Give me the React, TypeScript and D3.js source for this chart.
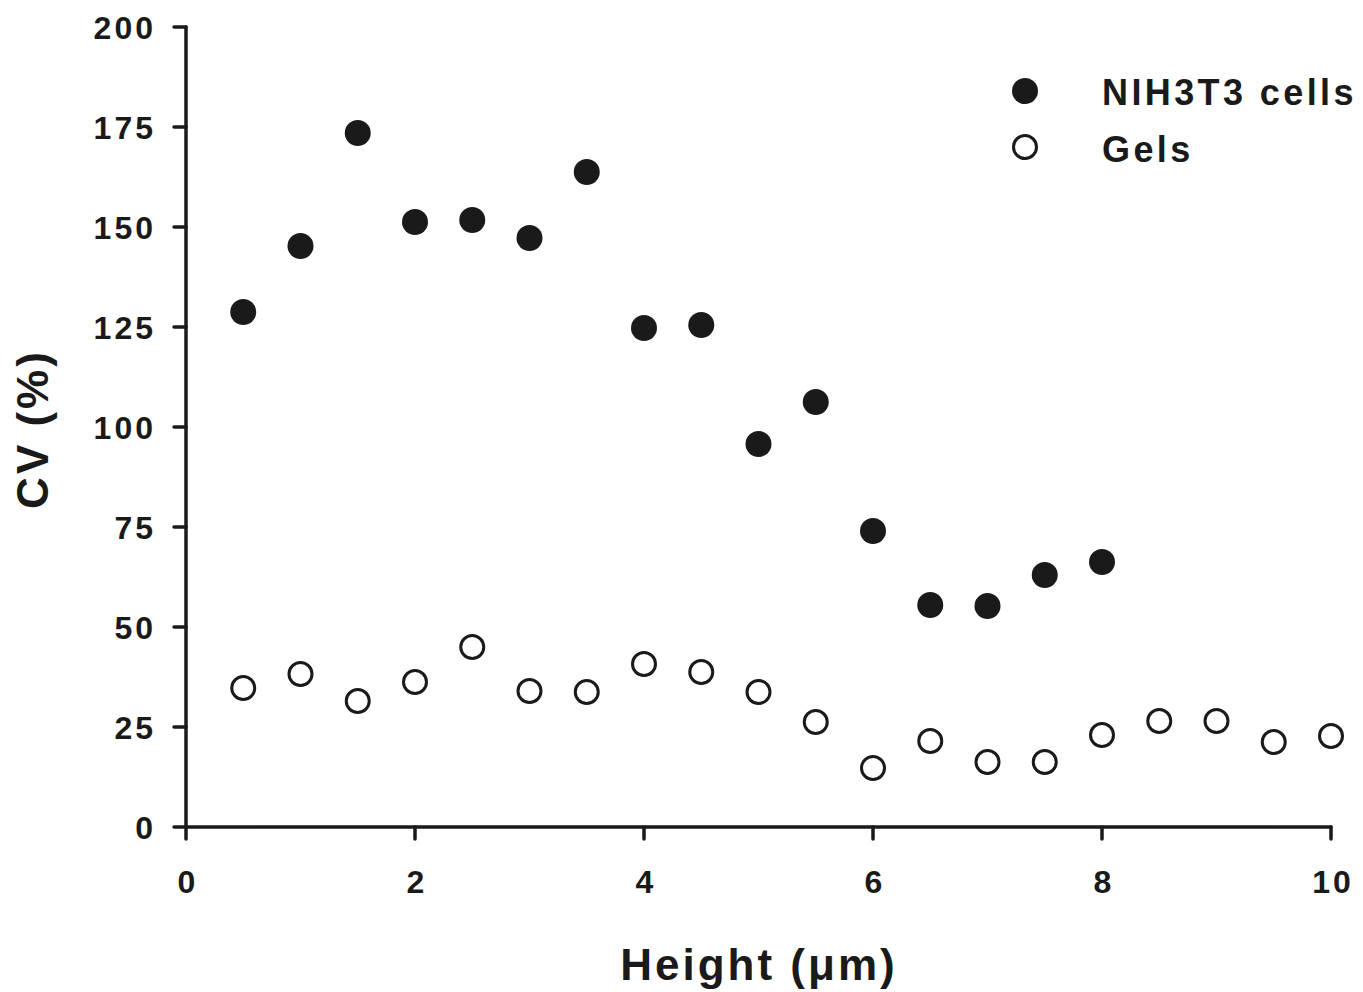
import React from "react";
import * as d3 from "d3";

const heightsCells = [0.5, 1, 1.5, 2, 2.5, 3, 3.5, 4, 4.5, 5, 5.5, 6, 6.5, 7, 7.5, 8];
const cvCells = [128.75, 145.25, 173.5, 151.25, 151.75, 147.25, 163.75, 124.75, 125.5, 95.75, 106.25, 74, 55.5, 55.25, 63, 66.25];
const heightsGels = [0.5, 1, 1.5, 2, 2.5, 3, 3.5, 4, 4.5, 5, 5.5, 6, 6.5, 7, 7.5, 8, 8.5, 9, 9.5, 10];
const cvGels = [34.75, 38.25, 31.5, 36.25, 45, 34, 33.75, 40.75, 38.75, 33.75, 26.25, 14.75, 21.5, 16.25, 16.25, 23, 26.5, 26.5, 21.25, 22.75];
const xTicks = [0, 2, 4, 6, 8, 10];
const yTicks = [0, 25, 50, 75, 100, 125, 150, 175, 200];
const seriesNames = ["NIH3T3 cells", "Gels"];

export default function App() {
  const W = 1363, H = 992;
  const x = d3.scaleLinear().domain([0, 10]).range([186, 1331]);
  const y = d3.scaleLinear().domain([0, 200]).range([827, 27]);
  const col = "#1a1a1a";
  const font = "'Liberation Sans', Arial, sans-serif";
  return (
    <svg width={W} height={H} style={{ position: "absolute", left: 0, top: 0, background: "#fff" }}>
      <g stroke={col} strokeWidth={3.5} strokeLinecap="round" fill="none">
        <line x1={x(0)} x2={x(0)} y1={y(200)} y2={y(0)} />
        <line x1={x(0)} x2={x(10)} y1={y(0)} y2={y(0)} />
        {yTicks.map((t) => (
          <line key={"yt" + t} x1={x(0) - 12} x2={x(0)} y1={y(t)} y2={y(t)} />
        ))}
        {xTicks.map((t) => (
          <line key={"xt" + t} x1={x(t)} x2={x(t)} y1={y(0)} y2={y(0) + 12} />
        ))}
      </g>
      <g fill={col} fontFamily={font} fontWeight="bold" fontSize={32} letterSpacing={3}>
        {yTicks.map((t) => (
          <text key={"yl" + t} x={x(0) - 30} y={y(t) + 12} textAnchor="end">{t}</text>
        ))}
        {xTicks.map((t) => (
          <text key={"xl" + t} x={x(t) + 2} y={y(0) + 66} textAnchor="middle">{t}</text>
        ))}
      </g>
      <text x={759} y={980} textAnchor="middle" fontFamily={font} fontWeight="bold" fontSize={44} letterSpacing={3} fill={col}>
        Height (μm)
      </text>
      <text transform={`translate(48,429) rotate(-90)`} textAnchor="middle" fontFamily={font} fontWeight="bold" fontSize={44} letterSpacing={3} fill={col}>
        CV (%)
      </text>
      {heightsCells.map((h, i) => (
        <circle key={"c" + i} cx={x(h)} cy={y(cvCells[i])} r={13} fill={col} />
      ))}
      {heightsGels.map((h, i) => (
        <circle key={"g" + i} cx={x(h)} cy={y(cvGels[i])} r={11.5} fill="#fff" stroke={col} strokeWidth={3} />
      ))}
      <circle cx={1025} cy={91} r={13} fill={col} />
      <circle cx={1025} cy={147} r={11.5} fill="#fff" stroke={col} strokeWidth={3} />
      <g fill={col} fontFamily={font} fontWeight="bold" fontSize={36} letterSpacing={3.4}>
        <text x={1102} y={105}>{seriesNames[0]}</text>
        <text x={1102} y={162}>{seriesNames[1]}</text>
      </g>
    </svg>
  );
}
